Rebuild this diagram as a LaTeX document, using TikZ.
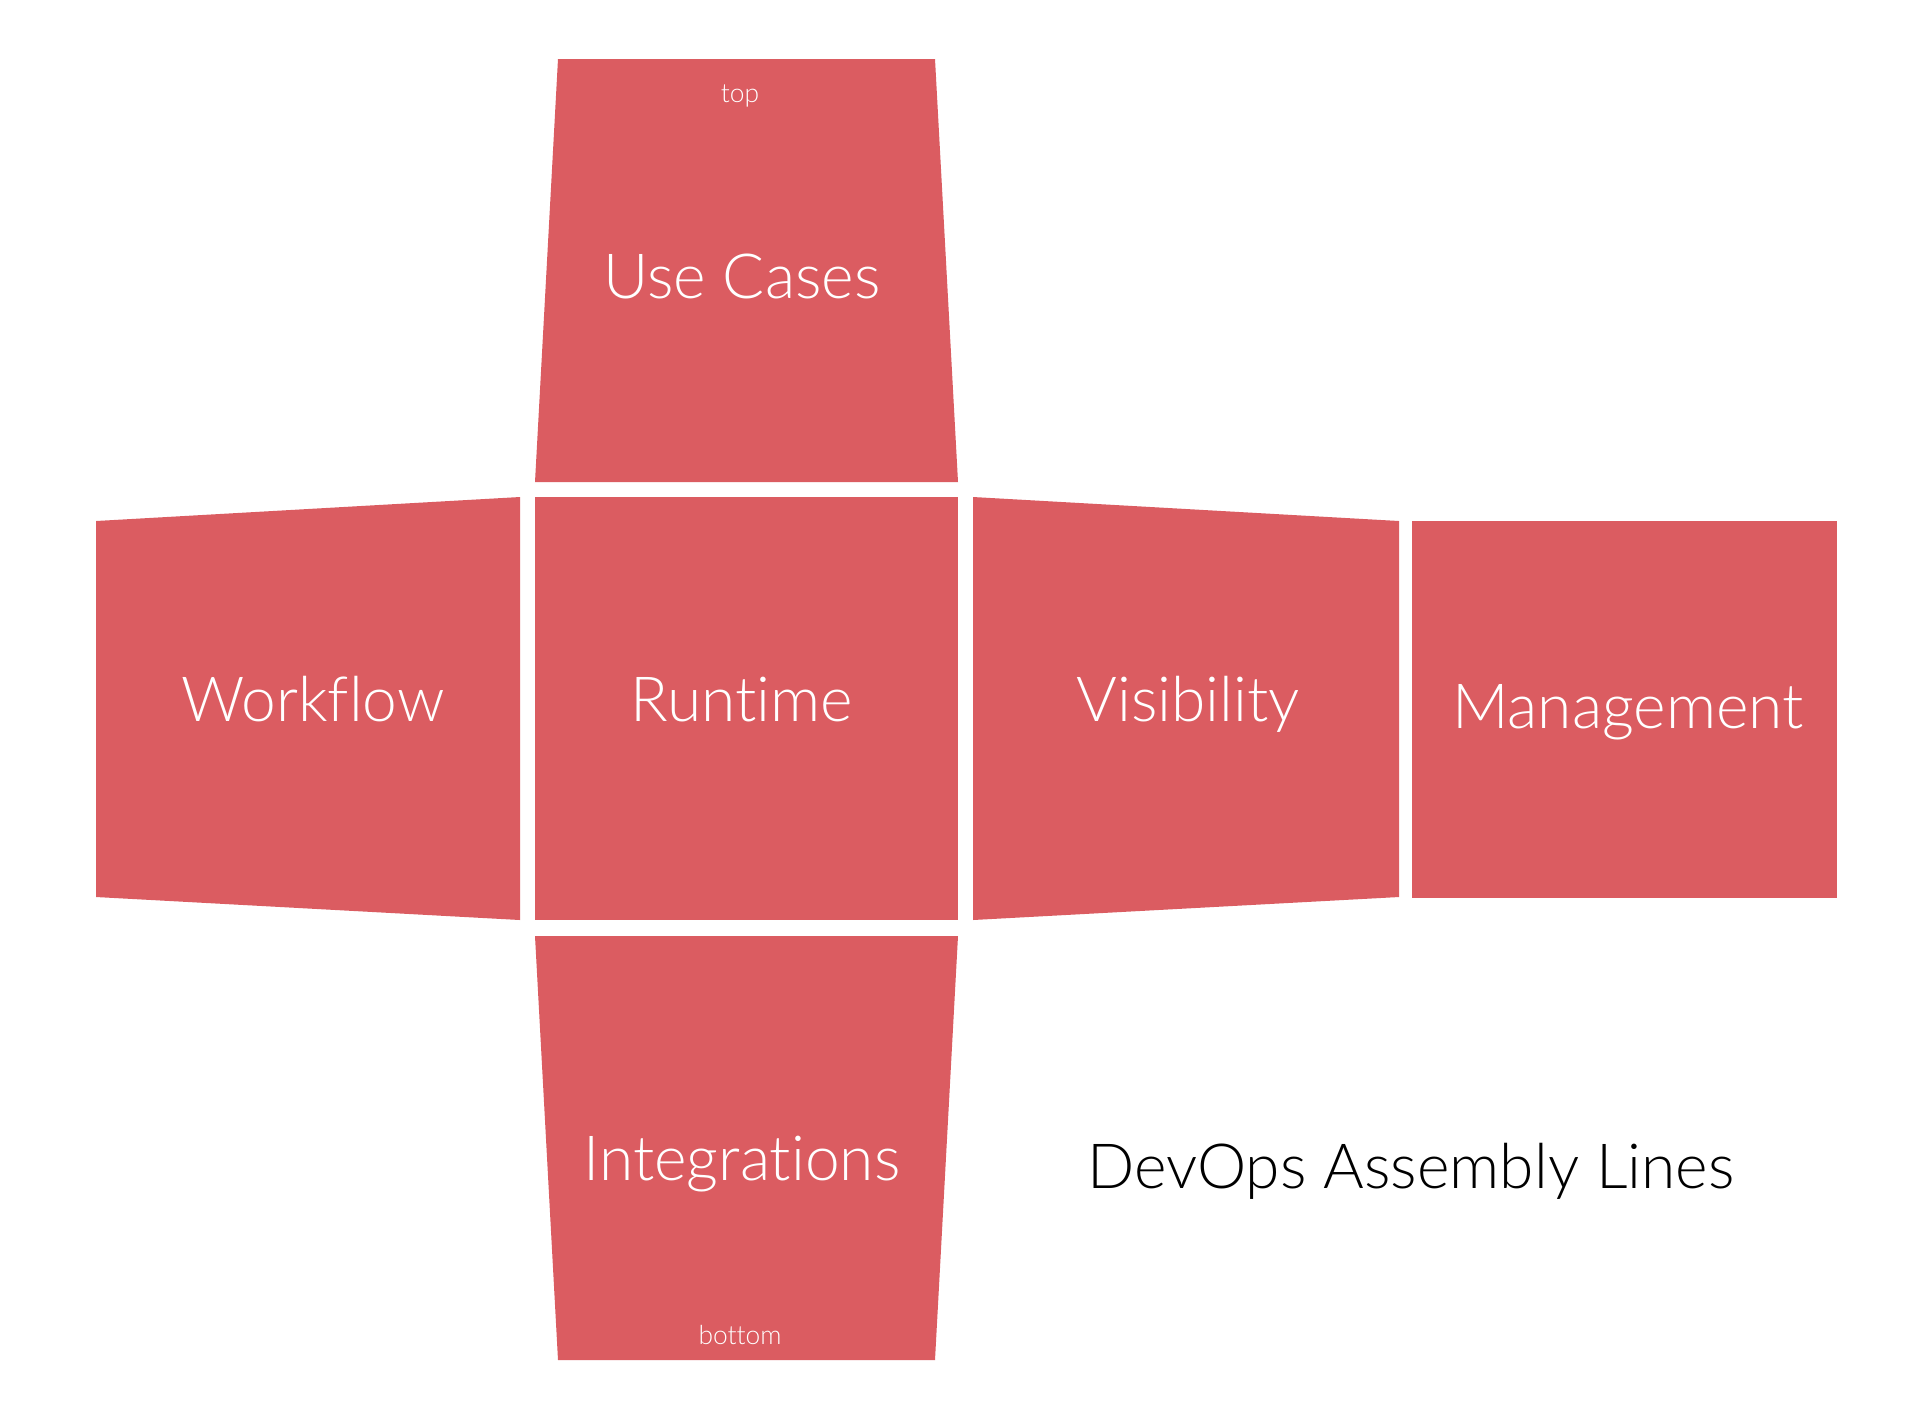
\documentclass[tikz,border=0pt]{standalone}
\usepackage{fontspec}
\setmainfont{Lato}[UprightFont=* Light, Ligatures={NoCommon}]
\usepackage{xcolor}
\usetikzlibrary{positioning}

\definecolor{facered}{RGB}{219,92,97}

\begin{document}
\begin{tikzpicture}[x=0.01cm, y=-0.01cm]
\useasboundingbox[fill=white] (0,0) rectangle (1924,1414);

\tikzset{
  face/.style={fill=facered},
  facelabel/.style={text=white, anchor=base, font=\fontsize{17.7}{22}\selectfont},
  smalllabel/.style={text=white, anchor=base, font=\fontsize{7.5}{9}\selectfont},
}

% Unfolded cube faces
\fill[face] (558,59) -- (935,59) -- (958,482) -- (535,482) -- cycle;      % top
\fill[face] (96,521) -- (520,497) -- (520,920) -- (96,897) -- cycle;      % left
\fill[face] (535,497) rectangle (958,920);                                % centre
\fill[face] (973,497) -- (1399,521) -- (1399,897) -- (973,920) -- cycle;  % right
\fill[face] (1412,521) rectangle (1837,898);                              % back
\fill[face] (535,936) -- (958,936) -- (935,1360) -- (558,1360) -- cycle;  % bottom

% Face labels
\node[smalllabel] (top)         at (740,102)  {top};
\node[facelabel]  (usecases)    at (742,298)  {Use Cases};
\node[facelabel]  (workflow)    at (313,721)  {Workflow};
\node[facelabel]  (runtime)     at (742,721)  {Runtime};
\node[facelabel]  (visibility)  at (1188,721) {Visibility};
\node[facelabel]  (management)  at (1628,728) {Management};
\node[facelabel]  (integrations) at (742,1180) {Integrations};
\node[smalllabel] (bottom)      at (740,1344) {bottom};

% Title
\node[anchor=base, font=\fontsize{17.7}{22}\selectfont] (title) at (1411,1188) {DevOps Assembly Lines};

\end{tikzpicture}
\end{document}
